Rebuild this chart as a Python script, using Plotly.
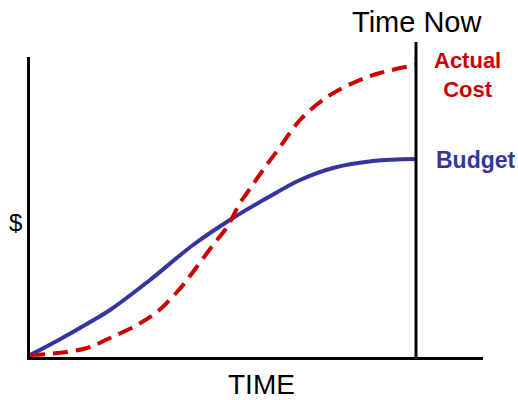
import plotly.graph_objects as go

# Data (time units, $ units)
budget_time = [0, 25, 67, 80, 120, 163, 203, 237, 270, 303, 343, 386]
budget_vals = [2, 15, 39, 47, 77, 112, 139, 159, 177, 189, 196, 198]

actual_time = [0, 28, 57, 80, 107, 127, 147, 163, 183, 197, 210, 217, 233, 250, 270, 297, 323, 350, 386]
actual_vals = [2, 4, 9, 19, 32, 45, 65, 85, 112, 130, 154, 164, 187, 210, 237, 260, 274, 284, 292]

time_now = 386
x_range = [0, 453]
y_range = [0, 300]

RED = "#cc0000"
BLUE = "#3535a0"
FONT = "Liberation Sans, Arial, sans-serif"

fig = go.Figure()
fig.add_trace(go.Scatter(x=budget_time, y=budget_vals, mode="lines",
                         line=dict(color=BLUE, width=4, shape="spline", smoothing=1.0),
                         name="Budget", showlegend=False, hoverinfo="skip"))
fig.add_trace(go.Scatter(x=actual_time, y=actual_vals, mode="lines",
                         line=dict(color=RED, width=4, shape="spline", smoothing=1.0, dash="15px,8px"),
                         name="Actual Cost", showlegend=False, hoverinfo="skip"))

fig.add_shape(type="line", xref="x", yref="paper", x0=time_now, x1=time_now, y0=0, y1=1.05,
              line=dict(color="black", width=3))

fig.add_annotation(x=time_now + 1, xref="x", y=1.117, yref="paper", text="Time Now", showarrow=False,
                   font=dict(family=FONT, size=29, color="black"), xanchor="center", yanchor="middle")
fig.add_annotation(x=437, xref="x", y=282, yref="y", text="<b>Actual</b><br><b>Cost</b>", showarrow=False,
                   font=dict(family=FONT, size=22, color=RED), xanchor="center", yanchor="middle")
fig.add_annotation(x=446, xref="x", y=197, yref="y", text="<b>Budget</b>", showarrow=False,
                   font=dict(family=FONT, size=23, color=BLUE), xanchor="center", yanchor="middle")
fig.add_annotation(x=-0.031, xref="paper", y=135, yref="y", text="$", showarrow=False,
                   font=dict(family=FONT, size=24, color="black"), xanchor="center", yanchor="middle")
fig.add_annotation(x=231, xref="x", y=-0.09, yref="paper", text="TIME", showarrow=False,
                   font=dict(family=FONT, size=28, color="black"), xanchor="center", yanchor="middle")

fig.update_xaxes(range=x_range, showgrid=False, zeroline=False, showticklabels=False, ticks="",
                 showline=True, linecolor="black", linewidth=3, fixedrange=True)
fig.update_yaxes(range=y_range, showgrid=False, zeroline=False, showticklabels=False, ticks="",
                 showline=True, linecolor="black", linewidth=3, fixedrange=True)

fig.update_layout(width=518, height=400, margin=dict(l=30, r=35, t=57, b=43),
                  plot_bgcolor="white", paper_bgcolor="white", showlegend=False)

fig.write_html("out.html", config={"displayModeBar": False},
               post_script="document.body.style.margin='0';document.body.style.overflow='hidden';")
